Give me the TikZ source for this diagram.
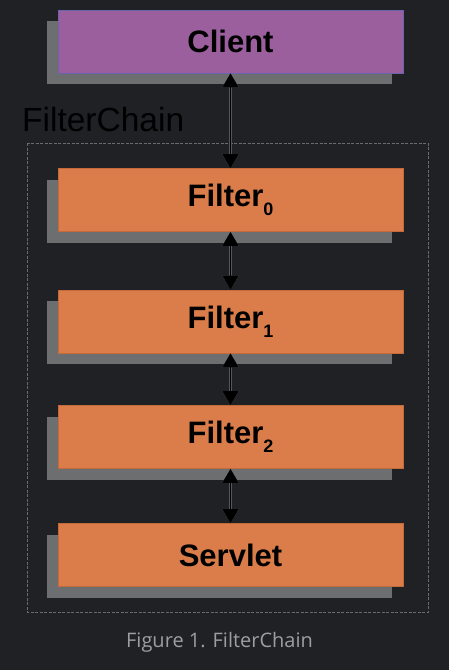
\documentclass[tikz,border=0pt]{standalone}
\usepackage{fontspec}
\setmainfont{Liberation Sans}
\newfontfamily\capfont{Open Sans}
\usetikzlibrary{arrows.meta,shadows}

\definecolor{bgcol}{HTML}{1F2125}
\definecolor{shadowgray}{HTML}{6D6E70}
\definecolor{clientfill}{HTML}{9A5F9C}
\definecolor{clientline}{HTML}{6A64B0}
\definecolor{filterfill}{HTML}{DA7D4A}
\definecolor{filterline}{HTML}{C46A3A}
\definecolor{chainline}{HTML}{6A6B6E}
\definecolor{captext}{HTML}{9C9EA2}

\newcommand{\idx}[1]{\raisebox{-9pt}{\fontsize{18}{18}\selectfont #1}}

\tikzset{
  stage/.style={rectangle, minimum width=345pt, minimum height=63pt, inner sep=0pt,
    font=\fontsize{31}{31}\selectfont\bfseries, text=black,
    drop shadow={fill=shadowgray, opacity=1, shadow xshift=-11pt, shadow yshift=-11pt}},
  filterbox/.style={stage, fill=filterfill, draw=filterline, line width=0.8pt},
  clientbox/.style={stage, fill=clientfill, draw=clientline, line width=0.8pt},
  link/.style={{Triangle[width=16pt,length=14pt]}-{Triangle[width=16pt,length=14pt]},
    black, line width=1.3pt, preaction={draw=shadowgray!70!bgcol, line width=2.8pt}},
}

\begin{document}
\begin{tikzpicture}[x=1pt, y=-1pt]
		\fill[bgcol] (0,0) rectangle (449,670);
		\useasboundingbox (0,0) rectangle (449,670);
		% chain frame
		\draw[chainline, line width=1pt, dash pattern=on 3pt off 1.5pt] (27,143) rectangle (428,612);
		\node[anchor=base west, inner sep=0pt, font=\fontsize{33.5}{33.5}\selectfont, text=black] (chain) at (22,131) {FilterChain};
		% stages
		\node[clientbox] (client) at (230.5,41.5) {Client};
		\node[filterbox] (f0) at (230.5,200) {Filter\idx{0}};
		\node[filterbox] (f1) at (230.5,321.5) {Filter\idx{1}};
		\node[filterbox] (f2) at (230.5,437) {Filter\idx{2}};
		\node[filterbox] (servlet) at (230.5,555) {Servlet};
		% links
		\draw[link] (client.south) -- (f0.north);
		\draw[link] (f0.south) -- (f1.north);
		\draw[link] (f1.south) -- (f2.north);
		\draw[link] (f2.south) -- (servlet.north);
		\node[font=\capfont\fontsize{20}{20}\selectfont, text=captext] (caption) at (219.5,642) {Figure 1. FilterChain};
\end{tikzpicture}
\end{document}
